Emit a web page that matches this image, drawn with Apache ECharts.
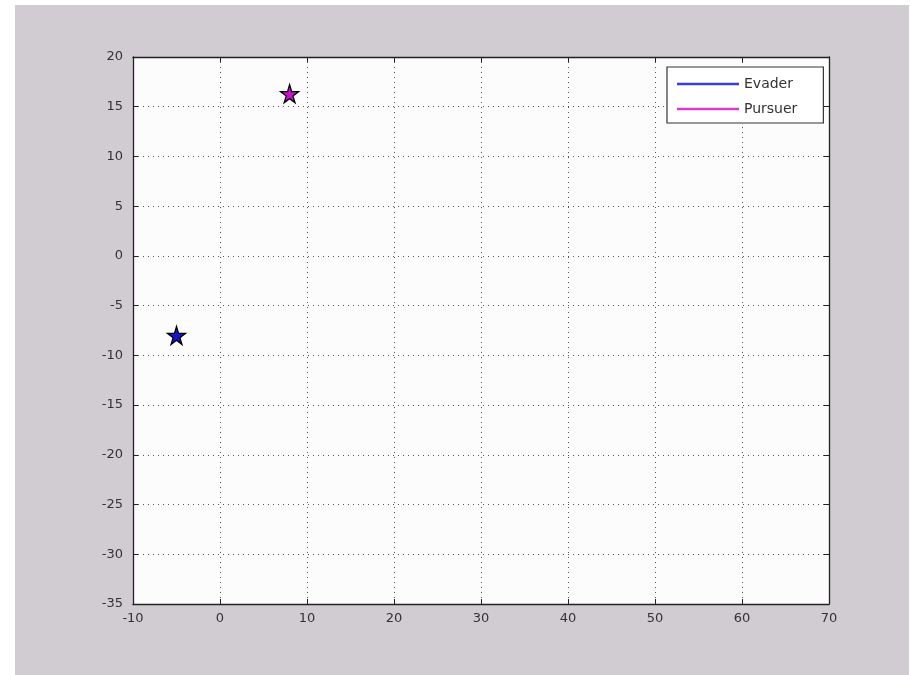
<!DOCTYPE html>
<html>
<head>
<meta charset="utf-8">
<script src="https://cdn.jsdelivr.net/npm/echarts@6/dist/echarts.min.js"></script>
<style>
html,body{margin:0;padding:0;background:#ffffff;width:910px;height:675px;overflow:hidden;}
#chart{position:absolute;left:15px;top:5px;width:894px;height:670px;}
</style>
</head>
<body>
<div id="chart"></div>
<script>
const seriesNames = ['Evader', 'Pursuer'];
const evaderX = [-5];
const evaderY = [-8];
const pursuerX = [8];
const pursuerY = [16.3];
const xTicks = [-10, 0, 10, 20, 30, 40, 50, 60, 70];
const yTicks = [-35, -30, -25, -20, -15, -10, -5, 0, 5, 10, 15, 20];

const star = 'path://M50,0 L61,35 L98,35 L68,57 L79,91 L50,70 L21,91 L32,57 L2,35 L39,35 Z';
const font = 'DejaVu Sans, sans-serif';

function pts(xs, ys){ return xs.map((x,i)=>[x, ys[i]]); }

const chart = echarts.init(document.getElementById('chart'));
const axisCommon = {
  type: 'value',
  axisLine: {show: true, onZero: false, lineStyle: {color: '#222', width: 1.3}},
  axisTick: {show: true, inside: true, length: 5, lineStyle: {color: '#222'}}
};
chart.setOption({
  backgroundColor: '#d1cbd2',
  animation: false,
  grid: {left: 118, right: 80, top: 52, bottom: 71, backgroundColor: '#fdfcfd', show: true, borderWidth: 0},
  legend: {
    left: 652, top: 62, orient: 'vertical',
    backgroundColor: '#ffffff', borderColor: '#333', borderWidth: 1.2,
    padding: [10, 26, 7, 10], itemGap: 11,
    itemWidth: 62, itemHeight: 16,
    icon: 'path://M0,7 L62,7 L62,9.5 L0,9.5 Z',
    itemStyle: {borderWidth: 0},
    textStyle: {fontFamily: font, fontSize: 14, color: '#333', padding: [0, 0, 0, 0]},
    data: seriesNames
  },
  xAxis: [
    Object.assign({}, axisCommon, {
      min: xTicks[0], max: xTicks[xTicks.length-1], interval: 10, position: 'bottom',
      axisLabel: {fontFamily: font, fontSize: 13, color: '#333', margin: 8},
      splitLine: {show: true, lineStyle: {color: '#555', type: [1, 4], width: 1}}
    }),
    Object.assign({}, axisCommon, {
      min: xTicks[0], max: xTicks[xTicks.length-1], interval: 10, position: 'top',
      axisLabel: {show: false}, splitLine: {show: false}
    })
  ],
  yAxis: [
    Object.assign({}, axisCommon, {
      min: yTicks[0], max: yTicks[yTicks.length-1], interval: 5, position: 'left',
      axisLabel: {fontFamily: font, fontSize: 13, color: '#333', margin: 10},
      splitLine: {show: true, lineStyle: {color: '#555', type: [1, 4], width: 1}}
    }),
    Object.assign({}, axisCommon, {
      min: yTicks[0], max: yTicks[yTicks.length-1], interval: 5, position: 'right',
      axisLabel: {show: false}, splitLine: {show: false}
    })
  ],
  series: [
    {
      name: seriesNames[0], type: 'line', xAxisIndex: 0, yAxisIndex: 0,
      symbol: star, symbolSize: 18,
      itemStyle: {color: '#3a3ae6'},
      lineStyle: {color: '#3a3ae6', width: 2},
      data: pts(evaderX, evaderY).map(p => ({value: p, itemStyle: {color: '#1414c8', borderColor: '#000', borderWidth: 1.3}}))
    },
    {
      name: seriesNames[1], type: 'line', xAxisIndex: 0, yAxisIndex: 0,
      symbol: star, symbolSize: 18,
      itemStyle: {color: '#d23cd2'},
      lineStyle: {color: '#d23cd2', width: 2},
      data: pts(pursuerX, pursuerY).map(p => ({value: p, itemStyle: {color: '#c814c8', borderColor: '#000', borderWidth: 1.3}}))
    }
  ]
});
</script>
</body>
</html>
